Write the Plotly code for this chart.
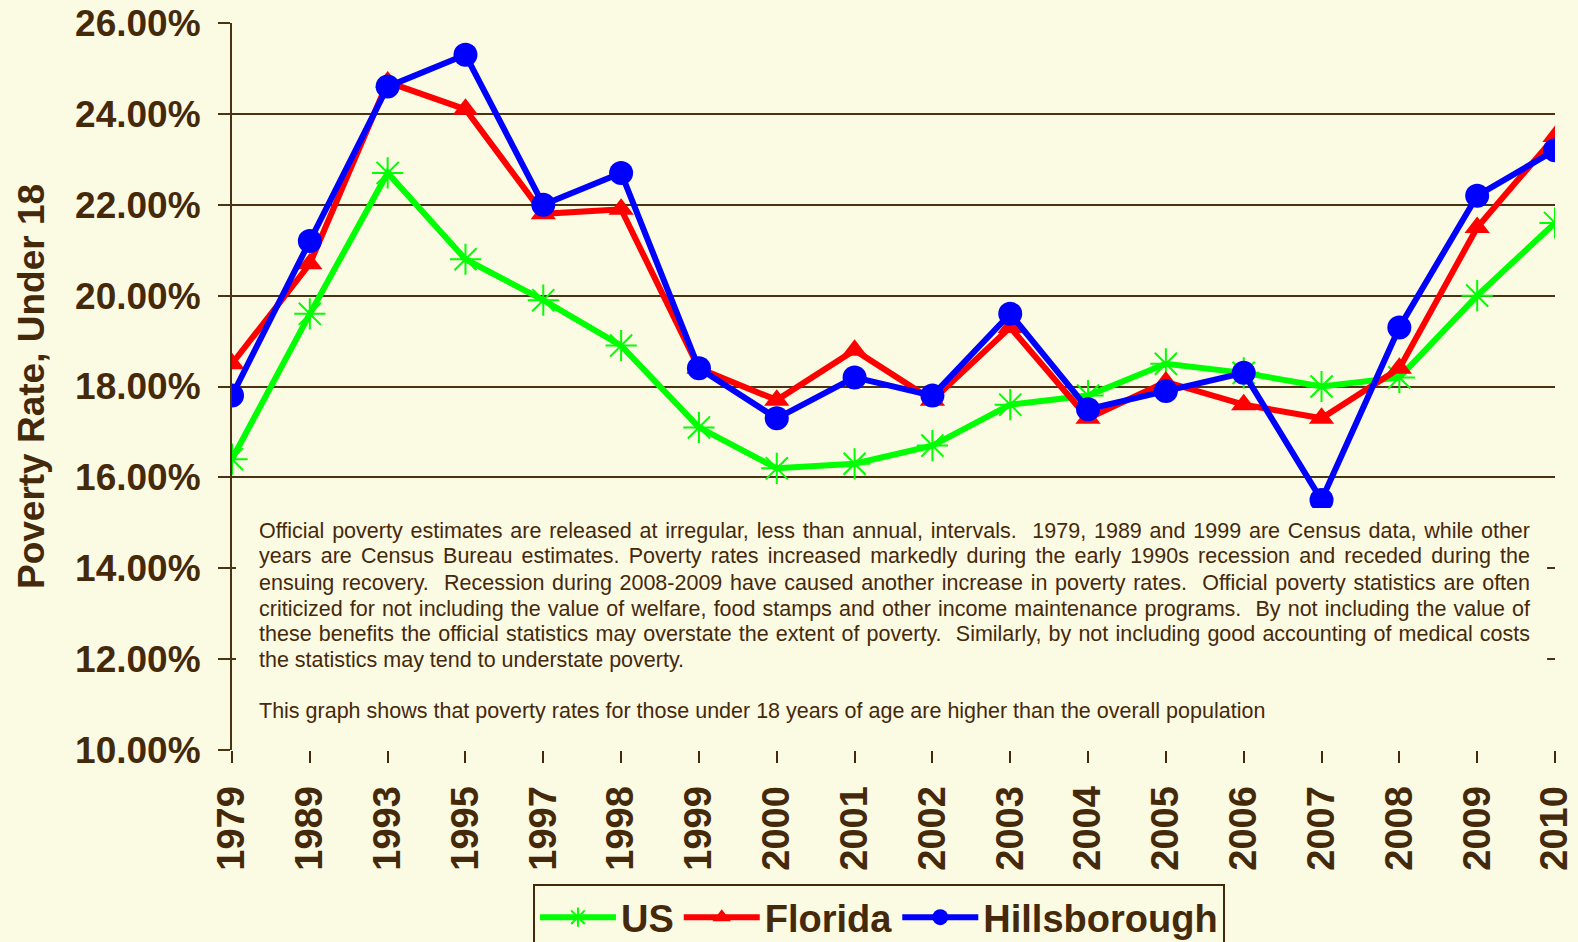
import plotly.graph_objects as go

years = ["1979", "1989", "1993", "1995", "1997", "1998", "1999", "2000", "2001",
         "2002", "2003", "2004", "2005", "2006", "2007", "2008", "2009", "2010"]
us = [16.4, 19.6, 22.7, 20.8, 19.9, 18.9, 17.1, 16.2, 16.3,
      16.7, 17.6, 17.8, 18.5, 18.3, 18.0, 18.2, 20.0, 21.6]
florida = [18.5, 20.7, 24.7, 24.1, 21.8, 21.9, 18.4, 17.7, 18.8,
           17.7, 19.3, 17.3, 18.1, 17.6, 17.3, 18.4, 21.5, 23.5]
hillsborough = [17.8, 21.2, 24.6, 25.3, 22.0, 22.7, 18.4, 17.3, 18.2,
                17.8, 19.6, 17.5, 17.9, 18.3, 15.5, 19.3, 22.2, 23.2]
y_ticks = [10, 12, 14, 16, 18, 20, 22, 24, 26]
y_labels = ["%.2f%%" % v for v in y_ticks]

note_lines = [
    "Official poverty estimates are released at irregular, less than annual, intervals.  1979, 1989 and 1999 are Census data, while other",
    "years are Census Bureau estimates. Poverty rates increased markedly during the early 1990s recession and receded during the",
    "ensuing recovery.  Recession during 2008-2009 have caused another increase in poverty rates.  Official poverty statistics are often",
    "criticized for not including the value of welfare, food stamps and other income maintenance programs.  By not including the value of",
    "these benefits the official statistics may overstate the extent of poverty.  Similarly, by not including good accounting of medical costs",
    "the statistics may tend to understate poverty.",
    "This graph shows that poverty rates for those under 18 years of age are higher than the overall population",
]
note_line_y = [0.3007, 0.2662, 0.2301, 0.1941, 0.1596, 0.1235, 0.0530]
justified_lines = 5

BG = "#FBFAE3"
BROWN = "#45290B"
GRID = "#4A3312"
FONT = "Liberation Sans, Arial, sans-serif"

fig = go.Figure()
fig.add_trace(go.Scatter(x=years, y=us, name="US", mode="lines+markers",
                         line=dict(color="#00FF00", width=6),
                         marker=dict(symbol="asterisk-open", size=26,
                                     line=dict(color="#00FF00", width=2))))
fig.add_trace(go.Scatter(x=years, y=florida, name="Florida", mode="lines+markers",
                         line=dict(color="#FF0000", width=6),
                         marker=dict(symbol="triangle-up", size=22, color="#FF0000")))
fig.add_trace(go.Scatter(x=years, y=hillsborough, name="Hillsborough", mode="lines+markers",
                         line=dict(color="#0000FF", width=6),
                         marker=dict(symbol="circle", size=24, color="#0000FF")))

fig.add_shape(type="rect", xref="paper", yref="paper", x0=0.003, x1=0.994,
              y0=0.012, y1=0.333, fillcolor=BG, line=dict(width=0), layer="above")
for line, ly in zip(note_lines, note_line_y):
    fig.add_annotation(xref="paper", yref="paper", x=0.0189, y=ly,
                       xanchor="left", yanchor="middle", align="left", showarrow=False,
                       text=line, font=dict(family=FONT, size=21.5, color=BROWN))

fig.update_layout(
    width=1578, height=942,
    paper_bgcolor=BG, plot_bgcolor=BG,
    margin=dict(l=232, r=23, t=23, b=192),
    font=dict(family=FONT, color=BROWN),
    showlegend=True,
    legend=dict(orientation="h", xref="container", yref="container",
                x=0.557, xanchor="center", y=0.0616, yanchor="top",
                bordercolor=BROWN, borderwidth=2, bgcolor=BG,
                font=dict(family=FONT, size=38, color=BROWN, weight="bold"),
                itemwidth=76, tracegroupgap=0),
)
fig.update_xaxes(type="category", range=[0, 17], showgrid=False, automargin=False,
                 showline=False, ticks="outside", ticklen=12, tickwidth=2,
                 tickcolor=BROWN, tickangle=-90, ticklabelstandoff=8,
                 tickfont=dict(family=FONT, size=38, color=BROWN, weight="bold"),
                 zeroline=False)
fig.update_yaxes(range=[10, 26], tickvals=y_ticks, ticktext=y_labels, automargin=False,
                 showgrid=True, gridcolor=GRID, gridwidth=2,
                 showline=True, linecolor=GRID, linewidth=2,
                 ticks="outside", ticklen=12, tickwidth=2, tickcolor=GRID,
                 ticklabelstandoff=10,
                 tickfont=dict(family=FONT, size=37, color=BROWN, weight="bold"),
                 title=dict(text="Poverty Rate, Under 18", standoff=19,
                            font=dict(family=FONT, size=37, color=BROWN, weight="bold")),
                 zeroline=False)

post = """
document.body.style.margin='0';document.body.style.overflow='hidden';
var gd = document.getElementById('{plot_id}');
function justifyNote(){
  var anns = gd.querySelectorAll('g.annotation');
  var targetRight = 1530;
  for (var i = 0; i < %d && i < anns.length; i++) {
    var t = anns[i].querySelector('text.annotation-text');
    if (!t) continue;
    t.style.wordSpacing = '0px';
    var n = (t.textContent.match(/ /g) || []).length;
    var r = t.getBoundingClientRect();
    if (n > 0) t.style.wordSpacing = ((targetRight - r.right) / n) + 'px';
  }
}
justifyNote();
setTimeout(justifyNote, 200);
gd.on && gd.on('plotly_afterplot', justifyNote);
""" % justified_lines

fig.write_html("out.html", config={"displayModeBar": False}, post_script=post)
